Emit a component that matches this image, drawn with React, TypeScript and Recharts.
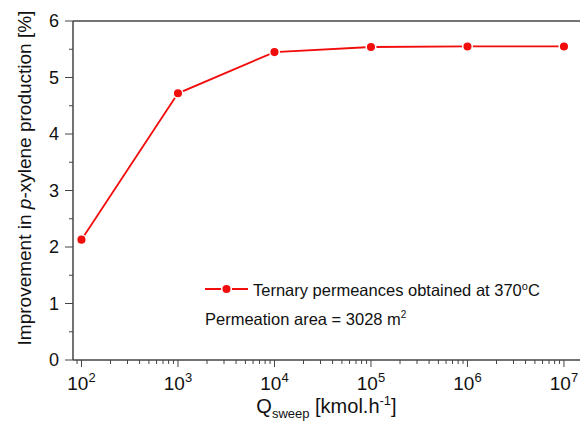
import React from "react";
import { LineChart, Line, XAxis, YAxis, ReferenceLine, Label } from "recharts";

// Q_sweep values (kmol/h) and the improvement
const sweepFlows = [1e2, 1e3, 1e4, 1e5, 1e6, 1e7];
const improvement = [2.13, 4.72, 5.45, 5.54, 5.55, 5.55];

const xMajorTicks = [1e2, 1e3, 1e4, 1e5, 1e6, 1e7];
const xMinorMultipliers = [2, 3, 4, 5, 6, 7, 8, 9];
const yMajorTicks = [0, 1, 2, 3, 4, 5, 6];
const yMinorTicks = [0.5, 1.5, 2.5, 3.5, 4.5, 5.5];

const RED = "#f20d0d";
const AXIS = "#444";
const FONT = "'Liberation Sans', Arial, Helvetica, sans-serif";

const data = sweepFlows.map((q, i) => ({ q, value: improvement[i] }));

const xMinorTicks = [10, ...xMajorTicks]
  .flatMap((d) => xMinorMultipliers.map((m) => m * d))
  .filter((v) => v > 81.7 && v < 1.46e7);
const xTicks = [...xMajorTicks, ...xMinorTicks].sort((a, b) => a - b);
const yTicks = [...yMajorTicks, ...yMinorTicks].sort((a, b) => a - b);

function XTick(props: any) {
  const { x, y, payload } = props;
  const v = payload.value;
  const major = xMajorTicks.some((t) => Math.abs(t - v) < 1e-6 * t);
  return (
    <g>
      <line x1={x} x2={x} y1={y} y2={y + (major ? 7 : 4)} stroke={AXIS} strokeWidth={1} />
      {major && (
        <text x={x} y={y + 30} textAnchor="middle" fontSize={19} fontFamily={FONT} fill="#111">
          10
          <tspan dy={-8} fontSize={13}>
            {Math.round(Math.log10(v))}
          </tspan>
        </text>
      )}
    </g>
  );
}

function YTick(props: any) {
  const { x, y, payload } = props;
  const v = payload.value;
  const major = Number.isInteger(v);
  return (
    <g>
      <line x1={x - (major ? 8 : 4)} x2={x} y1={y} y2={y} stroke={AXIS} strokeWidth={1} />
      {major && (
        <text x={x - 14} y={y + 6} textAnchor="end" fontSize={18} fontFamily={FONT} fill="#111">
          {v}
        </text>
      )}
    </g>
  );
}

const renderXLabel = (props: any) => {
  const { viewBox } = props;
  const cx = viewBox.x + viewBox.width / 2;
  return (
    <text x={cx} y={viewBox.y + 53} textAnchor="middle" fontSize={20} fontFamily={FONT} fill="#111">
      Q
      <tspan fontSize={13} dy={5}>sweep</tspan>
      <tspan dy={-5}> [kmol.h</tspan>
      <tspan fontSize={13} dy={-8}>-1</tspan>
      <tspan dy={8}>]</tspan>
    </text>
  );
};

const renderYLabel = () => (
  <text
    x={0}
    y={0}
    transform="translate(31,178) rotate(-90)"
    textAnchor="middle"
    fontSize={19}
    fontFamily={FONT}
    fill="#111"
  >
    Improvement in <tspan fontStyle="italic">p</tspan>-xylene production [%]
  </text>
);

export default function App() {
  return (
    <div style={{ position: "absolute", left: 0, top: 0, width: 580, height: 426, background: "#fff" }}>
      <LineChart width={580} height={426} data={data} margin={{ top: 21, right: 0, bottom: 0, left: 0 }}>
        <XAxis
          dataKey="q"
          type="number"
          scale="log"
          domain={[81.7, 1.466e7]}
          allowDataOverflow
          ticks={xTicks}
          interval={0}
          tick={<XTick />}
          tickLine={false}
          tickSize={0}
          tickMargin={0}
          axisLine={{ stroke: AXIS, strokeWidth: 1.5 }}
          height={66}
        >
          <Label content={renderXLabel} />
        </XAxis>
        <YAxis
          type="number"
          domain={[0, 6]}
          ticks={yTicks}
          interval={0}
          tick={<YTick />}
          tickLine={false}
          tickSize={0}
          tickMargin={0}
          axisLine={{ stroke: AXIS, strokeWidth: 1.5 }}
          width={73}
        >
          <Label content={renderYLabel} />
        </YAxis>
        <ReferenceLine y={6} stroke={AXIS} strokeWidth={1.5} />
        <Line
          type="linear"
          dataKey="value"
          stroke={RED}
          strokeWidth={1.8}
          dot={{ r: 4.8, fill: RED, stroke: "#fff", strokeWidth: 1.5 }}
          isAnimationActive={false}
        />
      </LineChart>
      <svg
        width={580}
        height={426}
        style={{ position: "absolute", left: 0, top: 0, pointerEvents: "none" }}
      >
        <line x1={205} x2={248} y1={289} y2={289} stroke={RED} strokeWidth={1.8} />
        <circle cx={226.5} cy={289} r={4.8} fill={RED} stroke="#fff" strokeWidth={1.5} />
        <text x={253} y={296} fontSize={16.5} fontFamily={FONT} fill="#111">
          Ternary permeances obtained at 370
          <tspan fontSize={11} dy={-6}>o</tspan>
          <tspan dy={6}>C</tspan>
        </text>
        <text x={205} y={325} fontSize={16.5} fontFamily={FONT} fill="#111">
          Permeation area = 3028 m
          <tspan fontSize={10} dy={-7}>2</tspan>
        </text>
      </svg>
    </div>
  );
}
